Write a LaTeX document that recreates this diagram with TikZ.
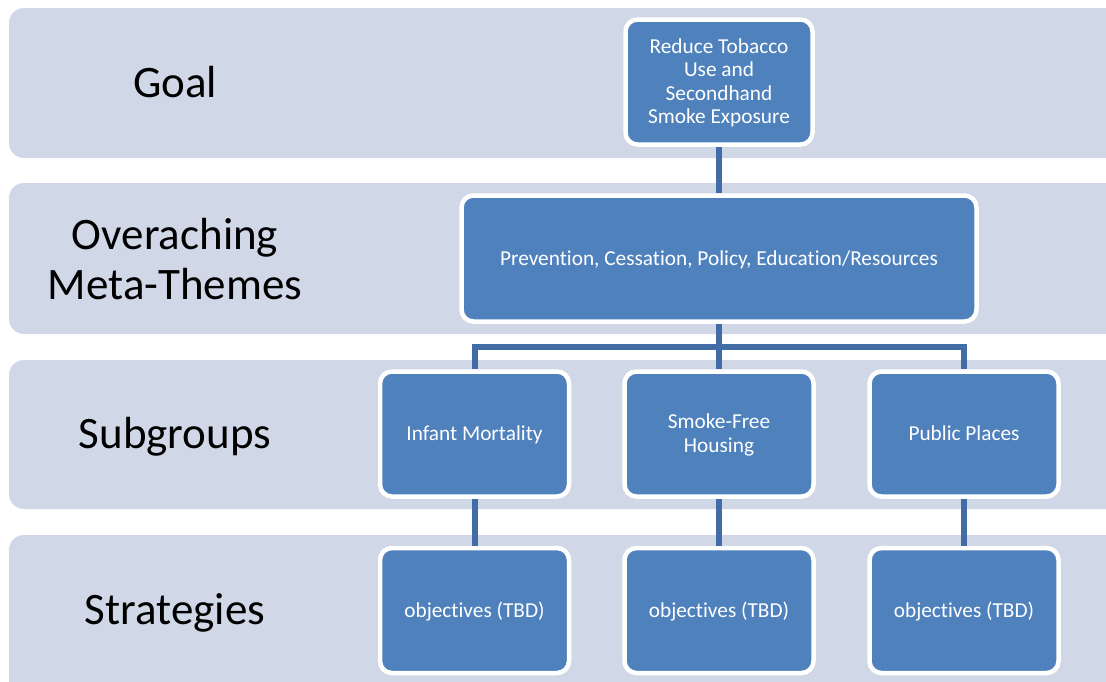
\documentclass[tikz,border=0pt]{standalone}
\usepackage{fontspec}
\setmainfont{Carlito}[Ligatures={NoCommon}]
\definecolor{bandfill}{HTML}{D0D8E8}
\definecolor{boxfill}{HTML}{4F81BD}
\definecolor{linkcol}{RGB}{65,108,165}
\newcommand{\lowtext}[1]{\raisebox{-2pt}[\height][\depth]{\begin{tabular}{@{}c@{}}#1\end{tabular}}}
\begin{document}
\begin{tikzpicture}[x=1pt,y=-1pt,
  band/.style={fill=bandfill,draw=none,rounded corners=15pt},
  bandlabel/.style={font=\fontsize{45}{50}\selectfont,text=black,align=center,inner sep=0pt},
  blue box/.style={draw=white,line width=4.5pt,fill=boxfill,rounded corners=12pt,
    text=white,font=\fontsize{21.3}{23.5}\selectfont,inner sep=0pt,
    minimum width=189pt,minimum height=125pt},
  link/.style={draw=linkcol,line width=6pt}]
\useasboundingbox (0,0) rectangle (1106,681);
\fill[white] (0,0) rectangle (1106,681);
% bands
\path[band] (9,8) rectangle (1125,158);
\path[band] (9,183) rectangle (1125,334);
\path[band] (9,360) rectangle (1125,509);
\path[band] (9,535) rectangle (1125,700);
% band labels
\node[bandlabel] (lgoal) at (175,82.5) {Goal};
\node[bandlabel] (lmeta) at (175,259) {Overaching\\Meta-Themes};
\node[bandlabel] (lsub) at (175,436.5) {Subgroups};
\node[bandlabel] (lstrat) at (175,612.5) {Strategies};
% nodes
\node[blue box,minimum width=187pt] (goal) at (719,82) {\lowtext{Reduce Tobacco\\Use and\\Secondhand\\Smoke Exposure}};
\node[blue box,minimum width=515pt,minimum height=126pt] (meta) at (719,258.5) {\lowtext{Prevention, Cessation, Policy, Education/Resources}};
\node[blue box] (infant) at (474.5,434) {\lowtext{Infant Mortality}};
\node[blue box] (smoke) at (719,434) {\lowtext{Smoke-Free\\Housing}};
\node[blue box] (public) at (964,434) {\lowtext{Public Places}};
\node[blue box] (s1) at (474.5,610.5) {\lowtext{objectives (TBD)}};
\node[blue box] (s2) at (719,610.5) {\lowtext{objectives (TBD)}};
\node[blue box] (s3) at (964,610.5) {\lowtext{objectives (TBD)}};
\coordinate (bus) at (719,347);
% connectors
\draw[link] (goal.south) -- (meta.north);
\draw[link] (meta.south) -- (smoke.north);
\draw[link] (infant.north) |- (bus) -| (public.north);
\draw[link] (infant.south) -- (s1.north);
\draw[link] (smoke.south) -- (s2.north);
\draw[link] (public.south) -- (s3.north);
\end{tikzpicture}
\end{document}
